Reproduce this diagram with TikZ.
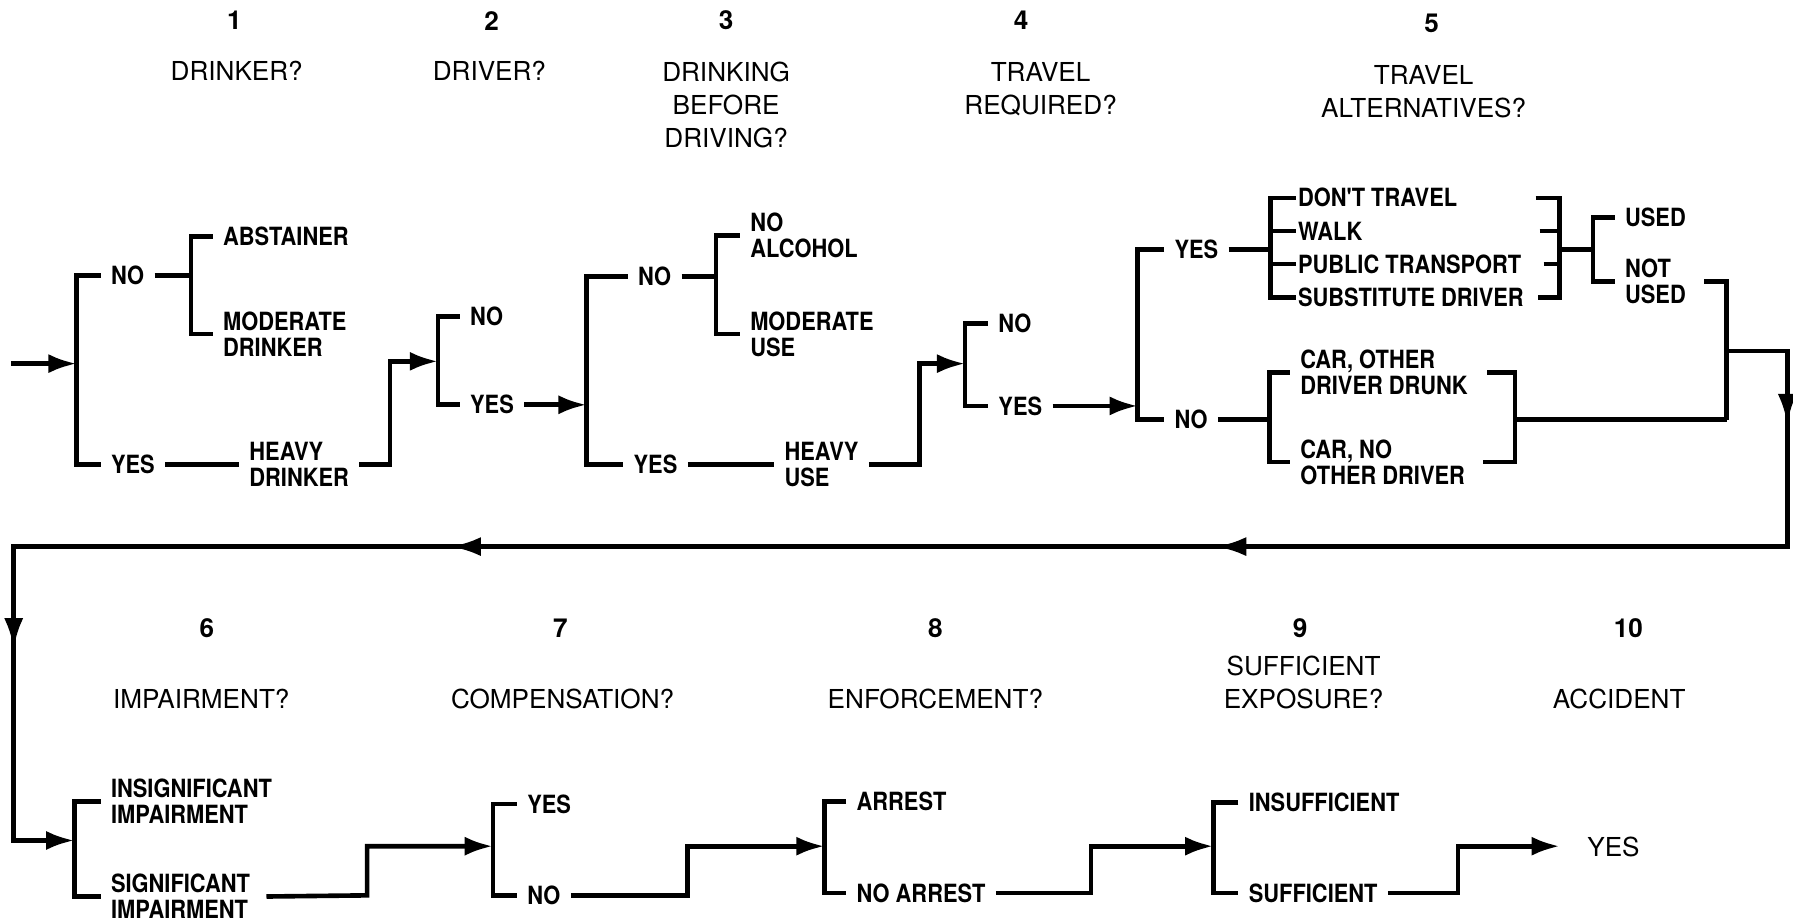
\documentclass[tikz,border=0pt]{standalone}
\usepackage{fontspec}
\setmainfont{TeX Gyre Heros}
\newfontfamily\lblfont[FakeStretch=0.87]{TeX Gyre Heros}
\usetikzlibrary{arrows.meta, decorations.markings}

\tikzset{
  wire/.style={line width=2.3pt},
  arr/.style={wire, -{Latex[length=14pt,width=9.5pt]}},
  midarr/.style={postaction={decorate, decoration={markings,
      mark=at position #1 with {\arrow{Latex[length=15pt,width=9.5pt]}}}}},
  head/.style={font=\fontsize{13}{16.5}\selectfont, align=center},
  num/.style={font=\bfseries\fontsize{13}{16}\selectfont},
  lbl/.style={font=\lblfont\bfseries\fontsize{12.5}{13}\selectfont, align=left, anchor=west, inner xsep=5pt, inner ysep=1pt},
  tight/.style={lbl, inner xsep=1pt},
}

\begin{document}
\begin{tikzpicture}[x=0.02cm, y=-0.02cm]
  \useasboundingbox (0,0) rectangle (1568,808);
  % Headings of the ten steps:
  \node[num] (n1) at (205,18) {1};
  \node[head] (q1) at (207,62) {DRINKER?};
  \node[num] (n2) at (430,18) {2};
  \node[head] (q2) at (428,62) {DRIVER?};
  \node[num] (n3) at (635,18) {3};
  \node[head] (q3) at (635,92) {DRINKING\\BEFORE\\DRIVING?};
  \node[num] (n4) at (893,18) {4};
  \node[head] (q4) at (910,78) {TRAVEL\\REQUIRED?};
  \node[num] (n5) at (1252,20) {5};
  \node[head] (q5) at (1245,80) {TRAVEL\\ALTERNATIVES?};
  \node[num] (n6) at (181,549) {6};
  \node[head] (q6) at (176,611) {IMPAIRMENT?};
  \node[num] (n7) at (490,549) {7};
  \node[head] (q7) at (492,611) {COMPENSATION?};
  \node[num] (n8) at (818,549) {8};
  \node[head] (q8) at (818,611) {ENFORCEMENT?};
  \node[num] (n9) at (1137,549) {9};
  \node[head] (q9) at (1140,597) {SUFFICIENT\\EXPOSURE?};
  \node[num] (n10) at (1424,549) {10};
  \node[head] (q10) at (1416,611) {ACCIDENT};

  % Step 1: drinker?
  \coordinate (start) at (10,318);
  \coordinate (b1) at (67,318);
  \coordinate (s1) at (167,241);
  \node[lbl] (no1) at (88,241) {NO};
  \node[lbl] (yes1) at (88,406) {YES};
  \node[lbl] (abst) at (186,207) {ABSTAINER};
  \node[lbl] (modd) at (186,292) {MODERATE\\DRINKER};
  \node[lbl] (heavyd) at (209,406) {HEAVY\\DRINKER};
  \draw[arr] (start) -- (b1);
  \draw[wire] (no1.west) -| (b1) |- (yes1.west);
  \draw[wire] (no1.east) -- (s1);
  \draw[wire] (abst.west) -| (s1) |- (modd.west);
  \draw[wire] (yes1.east) -- (heavyd.west);

  % Step 2: driver?
  \coordinate (k1) at (341,406);
  \coordinate (b2) at (383,316);
  \node[lbl] (no2) at (402,277) {NO};
  \node[lbl] (yes2) at (402,354) {YES};
  \draw[arr] (heavyd.east) -- (k1) |- (b2);
  \draw[wire] (no2.west) -| (b2) |- (yes2.west);

  % Step 3: drinking before driving?
  \coordinate (b3) at (513,354);
  \coordinate (s3) at (626,242);
  \node[lbl] (no3) at (549,242) {NO};
  \node[lbl] (yes3) at (545,406) {YES};
  \node[lbl] (noalc) at (647,206) {NO\\ALCOHOL};
  \node[lbl] (modu) at (647,292) {MODERATE\\USE};
  \node[lbl] (heavyu) at (677,406) {HEAVY\\USE};
  \draw[arr] (yes2.east) -- (b3);
  \draw[wire] (no3.west) -| (b3) |- (yes3.west);
  \draw[wire] (no3.east) -- (s3);
  \draw[wire] (noalc.west) -| (s3) |- (modu.west);
  \draw[wire] (yes3.east) -- (heavyu.west);

  % Step 4: travel required?
  \coordinate (k3) at (804,406);
  \coordinate (b4) at (844,318);
  \node[lbl] (no4) at (864,283) {NO};
  \node[lbl] (yes4) at (864,355) {YES};
  \draw[arr] (heavyu.east) -- (k3) |- (b4);
  \draw[wire] (no4.west) -| (b4) |- (yes4.west);

  % Step 5: travel alternatives?
  \coordinate (b5) at (995,355);
  \coordinate (s5) at (1111,218);
  \coordinate (r5) at (1364,218);
  \coordinate (u5) at (1393,218);
  \coordinate (c5) at (1110,367);
  \coordinate (rc) at (1325,367);
  \coordinate (jn) at (1510,307);
  \coordinate (m5) at (1510,367);
  \node[lbl] (yes5) at (1018,218) {YES};
  \node[lbl] (no5) at (1018,367) {NO};
  \node[tight] (dont) at (1133,173) {DON'T TRAVEL};
  \node[tight] (walk) at (1133,202) {WALK};
  \node[tight] (pub) at (1133,231) {PUBLIC TRANSPORT};
  \node[tight] (subs) at (1133,260) {SUBSTITUTE DRIVER};
  \node[lbl] (used) at (1412,190) {USED};
  \node[lbl] (notused) at (1412,246) {NOT\\USED};
  \node[lbl] (carodd) at (1128,326) {CAR, OTHER\\DRIVER DRUNK};
  \node[lbl] (carnod) at (1128,404) {CAR, NO\\OTHER DRIVER};
  \draw[arr] (yes4.east) -- (b5);
  \draw[wire] (yes5.west) -| (b5) |- (no5.west);
  \draw[wire] (yes5.east) -- (s5);
  \draw[wire] (dont.west) -| (s5) |- (subs.west);
  \draw[wire] (walk.west) -- (walk.west -| s5);
  \draw[wire] (pub.west) -- (pub.west -| s5);
  \draw[wire] ([xshift=-12pt]r5 |- dont.west) -| (r5) |- ([xshift=-11pt]r5 |- subs.west);
  \draw[wire] ([xshift=-10pt]r5 |- walk.west) -- (r5 |- walk.west);
  \draw[wire] ([xshift=-8pt]r5 |- pub.west) -- (r5 |- pub.west);
  \draw[wire] (r5) -- (u5);
  \draw[wire] (used.west) -| (u5) |- (notused.west);
  \draw[wire] ([xshift=4pt]notused.east) -| (m5);
  \draw[wire] (no5.east) -- (c5);
  \draw[wire] (carodd.west) -| (c5) |- (carnod.west);
  \draw[wire] ([xshift=-14pt]rc |- carodd.west) -| (rc) |- ([xshift=-16pt]rc |- carnod.west);
  \draw[wire] (rc) -- (m5);

  % Return line to the second row
  \coordinate (l1) at (1563,307);
  \coordinate (l2) at (1563,478);
  \coordinate (l3) at (12,478);
  \coordinate (l4) at (12,735);
  \coordinate (b6) at (65,735);
  \draw[arr, midarr=0.056, midarr=0.347, midarr=0.668, midarr=0.894]
    (jn) -- (l1) -- (l2) -- (l3) -- (l4) -- (b6);

  % Step 6: impairment?
  \coordinate (k6) at (321,783);
  \coordinate (b7) at (431,740);
  \node[lbl] (ins) at (88,701) {INSIGNIFICANT\\IMPAIRMENT};
  \node[lbl] (sig) at (88,784) {SIGNIFICANT\\IMPAIRMENT};
  \draw[wire] (ins.west) -| (b6) |- (sig.west);
  \draw[arr] ([xshift=3pt]sig.east) -- (k6) |- (b7);

  % Step 7: compensation?
  \coordinate (k7) at (601,783);
  \coordinate (b8) at (721,740);
  \node[lbl] (yes7) at (452,703) {YES};
  \node[lbl] (no7) at (452,783) {NO};
  \draw[wire] (yes7.west) -| (b7) |- (no7.west);
  \draw[arr] (no7.east) -- (k7) |- (b8);

  % Step 8: enforcement?
  \coordinate (k8) at (954,781);
  \coordinate (b9) at (1061,740);
  \node[lbl] (arr8) at (740,701) {ARREST};
  \node[lbl] (noarr) at (740,781) {NO ARREST};
  \draw[wire] (arr8.west) -| (b8) |- (noarr.west);
  \draw[arr] (noarr.east) -- (k8) |- (b9);

  % Step 9 and 10: exposure, accident
  \coordinate (k9) at (1275,781);
  \coordinate (tip9) at (1364,740);
  \node[lbl] (insuf) at (1083,702) {INSUFFICIENT};
  \node[lbl] (suf) at (1083,781) {SUFFICIENT};
  \node[head] (accyes) at (1411,741) {YES};
  \draw[wire] (insuf.west) -| (b9) |- (suf.west);
  \draw[arr] (suf.east) -- (k9) |- (tip9);
\end{tikzpicture}
\end{document}
